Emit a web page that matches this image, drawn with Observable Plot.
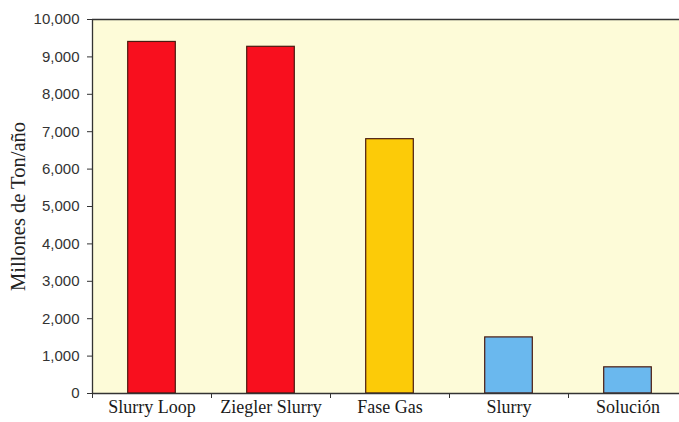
<!DOCTYPE html>
<html>
<head>
<meta charset="utf-8">
<script src="https://cdn.jsdelivr.net/npm/d3@7"></script>
<script src="https://cdn.jsdelivr.net/npm/@observablehq/plot@0.6"></script>
<style>
  body { margin: 0; background: #fff; }
</style>
</head>
<body>
<div id="chart"></div>
<script>
// Capacidad por tecnología de proceso (millones de ton/año)
const categories = ["Slurry Loop", "Ziegler Slurry", "Fase Gas", "Slurry", "Solución"];
const capacities = [9400, 9270, 6800, 1500, 700];
const barColors = ["#f80f1e", "#f80f1e", "#fccb08", "#6ab8ee", "#6ab8ee"];
const yTicks = [0, 1000, 2000, 3000, 4000, 5000, 6000, 7000, 8000, 9000, 10000];
const yTitle = "Millones de Ton/año";

const rows = categories.map((name, i) => ({ name, i, value: capacities[i], color: barColors[i] }));
const slotEdges = categories.map((c, i) => i).concat([categories.length]);
const slotCenters = categories.map((c, i) => i + 0.5);

const serif = "'Liberation Serif', 'Times New Roman', serif";

const chart = Plot.plot({
  width: 679,
  height: 422,
  marginLeft: 92,
  marginRight: 0,
  marginTop: 19,
  marginBottom: 29,
  style: { background: "transparent", color: "#333", fontFamily: "'Liberation Sans', Arial, sans-serif", fontSize: "15px" },
  x: { domain: [0, categories.length], range: [92, 687] },
  y: { domain: [0, 10000] },
  marks: [
    Plot.frame({ fill: "#fdfbd8", stroke: null }),
    Plot.rectY(rows, {
      x1: d => d.i + 0.3,
      x2: d => d.i + 0.7,
      y1: 0,
      y2: "value",
      fill: "color",
      stroke: "#4a1a10",
      strokeWidth: 1.2
    }),
    Plot.ruleY([0, 10000], { stroke: "#333", strokeWidth: 1.3 }),
    Plot.ruleX([0], { stroke: "#333", strokeWidth: 1.3 }),
    Plot.axisY({
      ticks: yTicks,
      tickSize: 5,
      tickPadding: 8,
      tickFormat: d3.format(","),
      fontSize: 15,
      fill: "#333",
      label: null
    }),
    Plot.axisX({
      ticks: slotEdges,
      tickSize: 5,
      tickFormat: () => "",
      label: null
    }),
    Plot.axisX({
      ticks: slotCenters,
      tickSize: 0,
      tickPadding: 7,
      tickFormat: d => categories[Math.floor(d)],
      fontFamily: serif,
      fontSize: 18,
      fill: "#1a1a1a",
      label: null
    }),
    Plot.text([yTitle], {
      frameAnchor: "left",
      textAnchor: "middle",
      dx: -74,
      rotate: -90,
      fontFamily: serif,
      fontSize: 20.5,
      fill: "#222"
    })
  ]
});

document.getElementById("chart").append(chart);
</script>
</body>
</html>
